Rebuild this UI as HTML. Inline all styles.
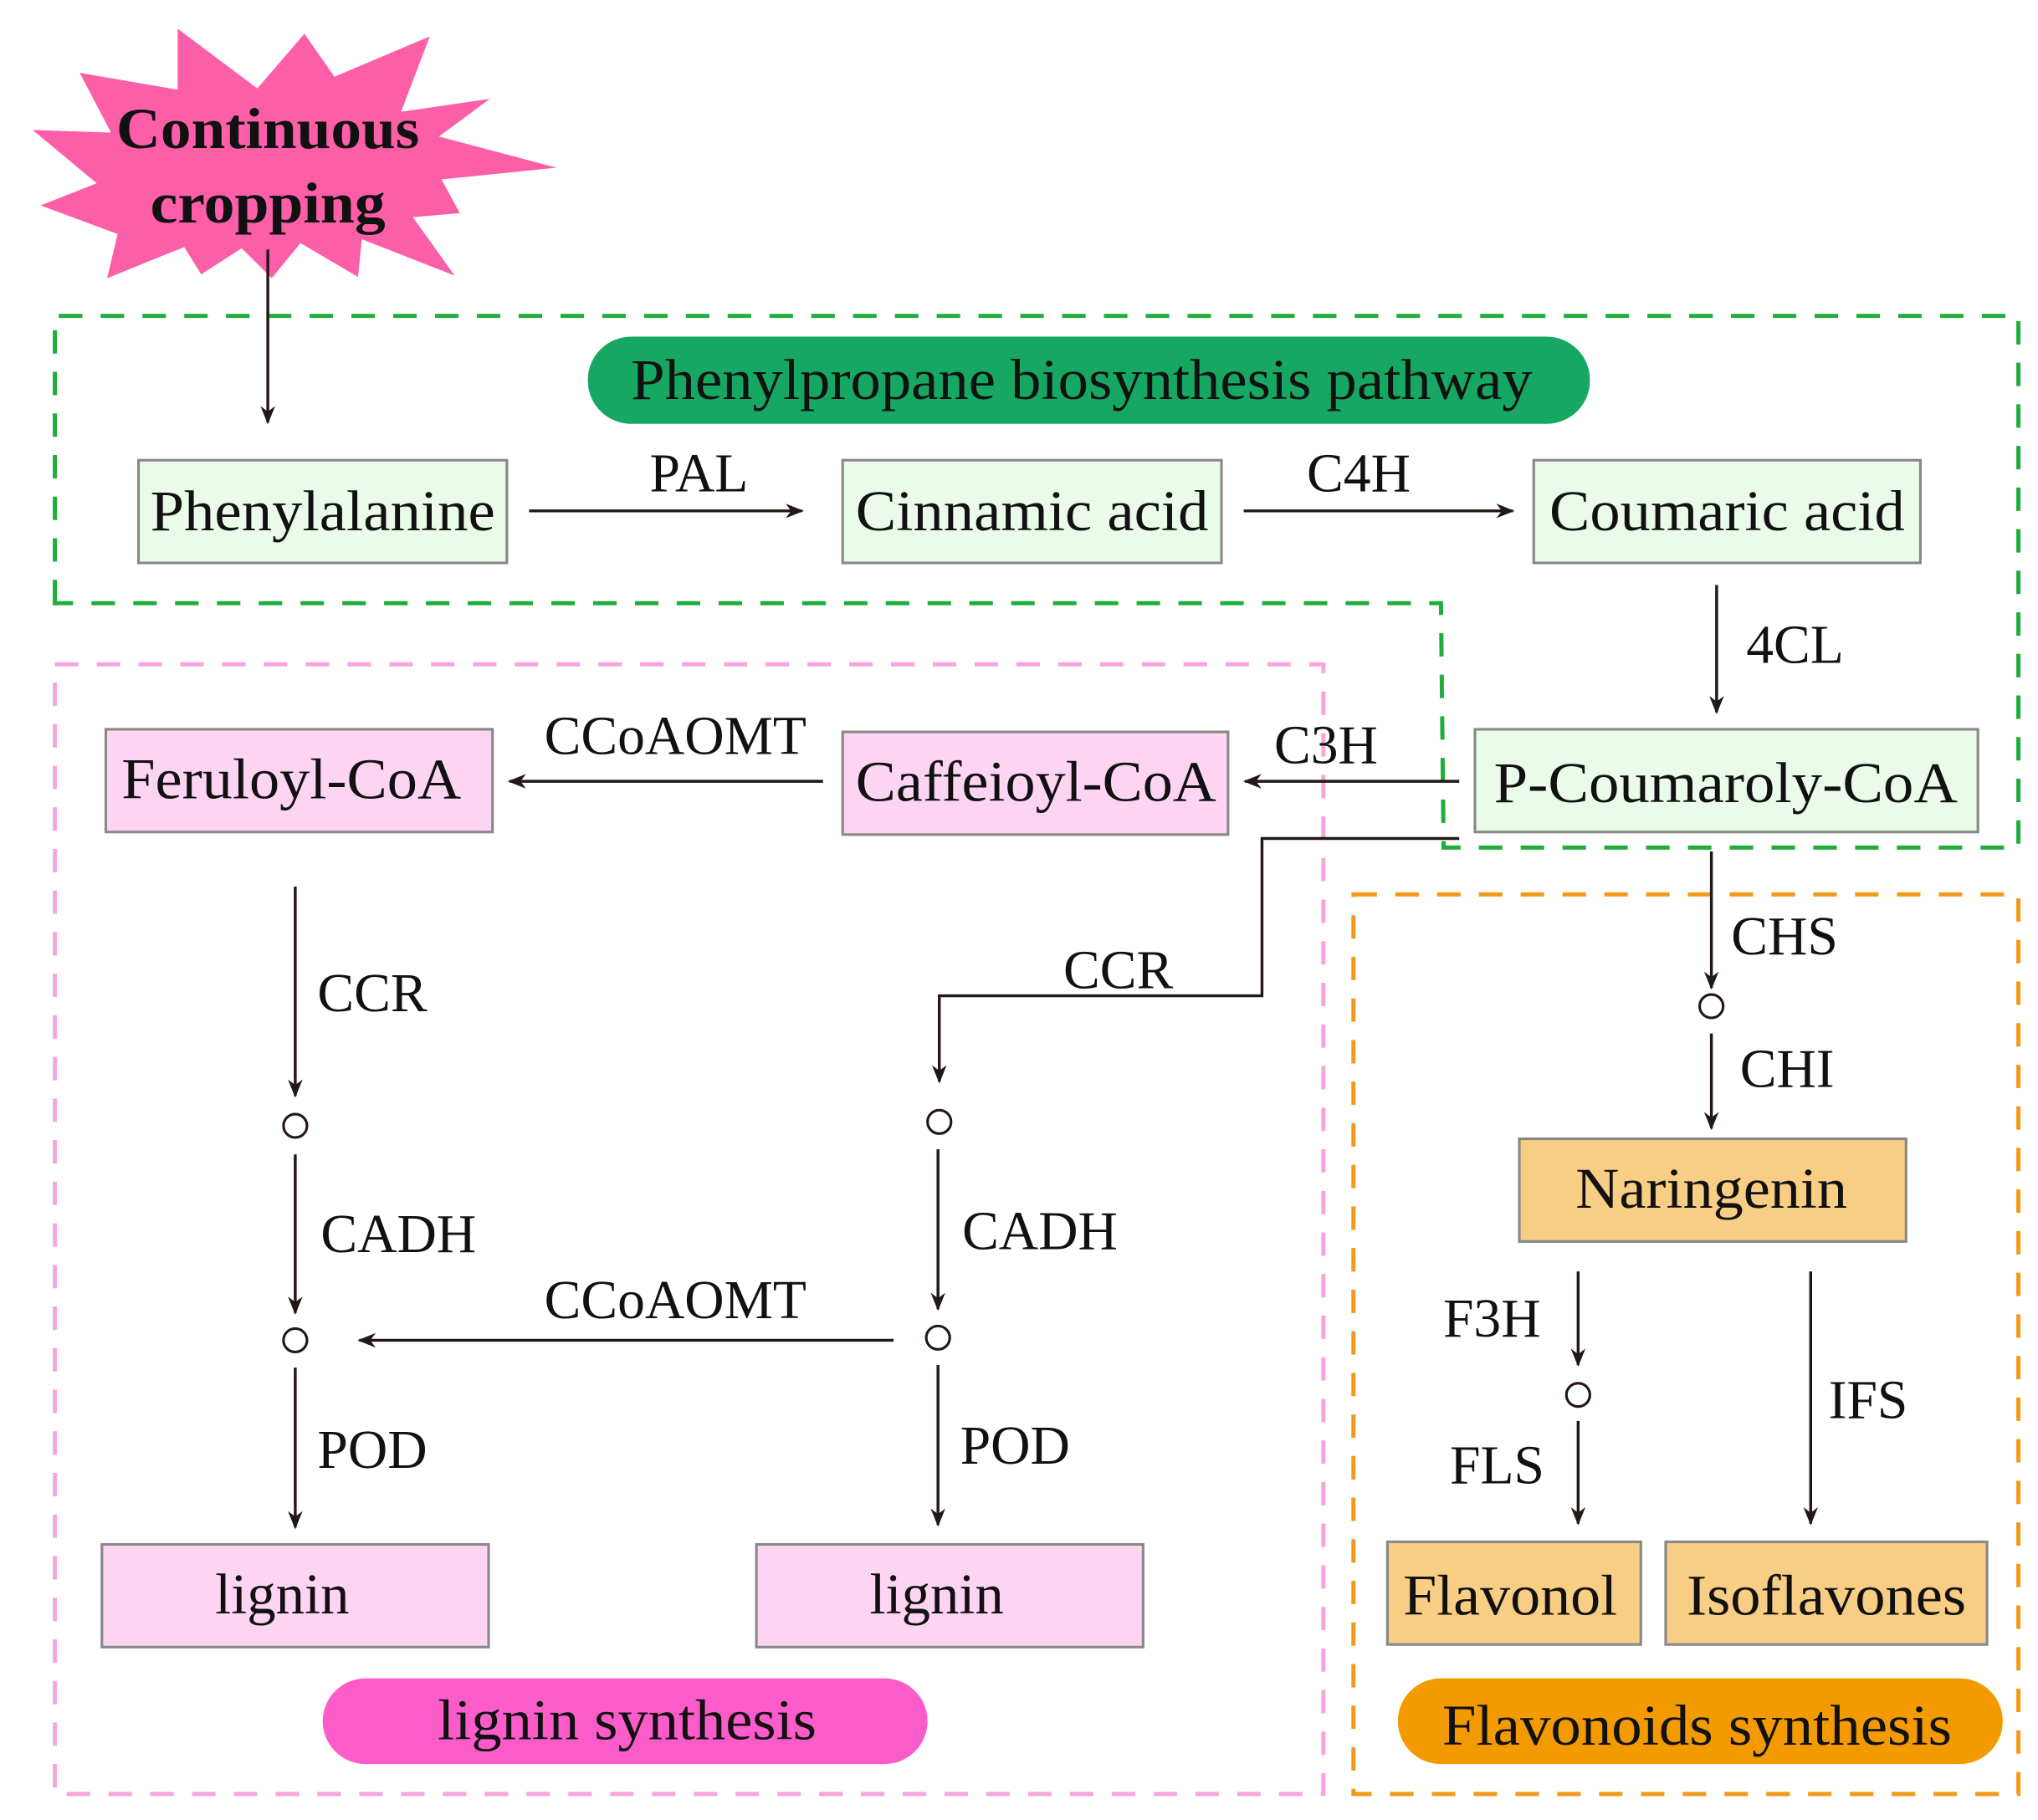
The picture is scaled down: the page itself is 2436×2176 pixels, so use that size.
<!DOCTYPE html>
<html><head><meta charset="utf-8"><style>
html,body{margin:0;padding:0;background:#fff;}
svg{display:block;}
text{font-family:"Liberation Serif",serif;fill:#111;}
</style></head><body>
<svg width="2436" height="2176" viewBox="0 0 1560 1400" preserveAspectRatio="none" xmlns="http://www.w3.org/2000/svg">
<defs>
<marker id="a" viewBox="0 0 10 10" refX="9" refY="5" markerWidth="14" markerHeight="14" orient="auto" markerUnits="userSpaceOnUse">
<path d="M0,1 L10,5 L0,9 L3,5 Z" fill="#231815"/>
</marker>
</defs>
<g fill="none" stroke-width="3.2" stroke-dasharray="18 14">
<path d="M42,464 L42,243 L1545,243 L1545,652 L1105,652 L1103,464 Z" stroke="#1fae3a"/>
<rect x="42" y="511" width="971" height="869" stroke="#f7a5dc"/>
<rect x="1036" y="688" width="509" height="692" stroke="#f29a1a"/>
</g>
<polygon points="136,22 197,68 233,26 256,59 329,28 307,86 375,76 336,105 426,129 338,138 352,164 316,167 348,212 277,184 274,213 230,187 208,214 185,191 154,211 141,190 82,214 90,180 31,158 74,141 25,100 85,102 61,56 136,69" fill="#fd5ea8"/>
<text x="205" y="114" font-size="44" font-weight="bold" text-anchor="middle" textLength="232" lengthAdjust="spacingAndGlyphs">Continuous</text>
<text x="205" y="171" font-size="44" font-weight="bold" text-anchor="middle" textLength="180" lengthAdjust="spacingAndGlyphs">cropping</text>
<g stroke="#231815" stroke-width="2.2" fill="none" marker-end="url(#a)">
<line x1="205" y1="192" x2="205" y2="325"/>
<line x1="405" y1="393" x2="614" y2="393"/>
<line x1="952" y1="393" x2="1158" y2="393"/>
<line x1="1314" y1="450" x2="1314" y2="548"/>
<line x1="1117" y1="601" x2="953" y2="601"/>
<line x1="630" y1="601" x2="390" y2="601"/>
<path d="M1117,645 L966,645 L966,766 L719,766 L719,832"/>
<line x1="226" y1="682" x2="226" y2="843"/>
<line x1="226" y1="888" x2="226" y2="1010"/>
<line x1="226" y1="1052" x2="226" y2="1175"/>
<line x1="718" y1="884" x2="718" y2="1007"/>
<line x1="718" y1="1050" x2="718" y2="1173"/>
<line x1="684" y1="1031" x2="275" y2="1031"/>
<line x1="1310" y1="655" x2="1310" y2="760"/>
<line x1="1310" y1="795" x2="1310" y2="868"/>
<line x1="1208" y1="978" x2="1208" y2="1050"/>
<line x1="1208" y1="1093" x2="1208" y2="1172"/>
<line x1="1386" y1="978" x2="1386" y2="1172"/>
</g>
<g fill="#fff" stroke="#231815" stroke-width="2">
<circle cx="226" cy="866" r="9"/><circle cx="226" cy="1031" r="9"/>
<circle cx="719" cy="863" r="9"/><circle cx="718" cy="1029" r="9"/>
<circle cx="1310" cy="774" r="9"/><circle cx="1208" cy="1073" r="9"/>
</g>
<rect x="450" y="259" width="767" height="67" rx="33" fill="#16a862"/>
<text x="828" y="307" font-size="44" text-anchor="middle" textLength="690" lengthAdjust="spacingAndGlyphs">Phenylpropane biosynthesis pathway</text>
<g stroke="#888" stroke-width="2">
<rect x="106" y="354" width="282" height="79" fill="#eafbea"/>
<rect x="645" y="354" width="290" height="79" fill="#eafbea"/>
<rect x="1174" y="354" width="296" height="79" fill="#eafbea"/>
<rect x="1129" y="561" width="385" height="79" fill="#eafbea"/>
<rect x="81" y="561" width="296" height="79" fill="#fdd5f3"/>
<rect x="645" y="563" width="295" height="79" fill="#fdd5f3"/>
<rect x="78" y="1188" width="296" height="79" fill="#fdd5f3"/>
<rect x="579" y="1188" width="296" height="79" fill="#fdd5f3"/>
<rect x="1163" y="876" width="296" height="79" fill="#f8cd84"/>
<rect x="1062" y="1186" width="194" height="79" fill="#f8cd84"/>
<rect x="1275" y="1186" width="246" height="79" fill="#f8cd84"/>
</g>
<rect x="247" y="1291" width="463" height="66" rx="33" fill="#fc5cc9"/>
<rect x="1070" y="1291" width="463" height="66" rx="33" fill="#f29a00"/>
<g font-size="44" text-anchor="middle">
<text x="247" y="408" textLength="264" lengthAdjust="spacingAndGlyphs">Phenylalanine</text>
<text x="790" y="408" textLength="270" lengthAdjust="spacingAndGlyphs">Cinnamic acid</text>
<text x="1322" y="408" textLength="272" lengthAdjust="spacingAndGlyphs">Coumaric acid</text>
<text x="1321" y="617" textLength="355" lengthAdjust="spacingAndGlyphs">P-Coumaroly-CoA</text>
<text x="223" y="614" textLength="260" lengthAdjust="spacingAndGlyphs">Feruloyl-CoA</text>
<text x="793" y="616" textLength="276" lengthAdjust="spacingAndGlyphs">Caffeioyl-CoA</text>
<text x="216" y="1241">lignin</text>
<text x="717" y="1241">lignin</text>
<text x="1310" y="929" textLength="208" lengthAdjust="spacingAndGlyphs">Naringenin</text>
<text x="1156" y="1242" textLength="164" lengthAdjust="spacingAndGlyphs">Flavonol</text>
<text x="1398" y="1242" textLength="214" lengthAdjust="spacingAndGlyphs">Isoflavones</text>
<text x="480" y="1338" textLength="290" lengthAdjust="spacingAndGlyphs">lignin synthesis</text>
<text x="1299" y="1342" textLength="390" lengthAdjust="spacingAndGlyphs">Flavonoids synthesis</text>
</g>
<g font-size="42" text-anchor="middle">
<text x="535" y="378">PAL</text>
<text x="1040" y="378">C4H</text>
<text x="1374" y="510">4CL</text>
<text x="1015" y="587">C3H</text>
<text x="517" y="580">CCoAOMT</text>
<text x="856" y="760">CCR</text>
<text x="285" y="778">CCR</text>
<text x="305" y="963">CADH</text>
<text x="796" y="961">CADH</text>
<text x="517" y="1014">CCoAOMT</text>
<text x="285" y="1129">POD</text>
<text x="777" y="1126">POD</text>
<text x="1366" y="734">CHS</text>
<text x="1368" y="836">CHI</text>
<text x="1142" y="1028">F3H</text>
<text x="1146" y="1141">FLS</text>
<text x="1430" y="1091">IFS</text>
</g>
</svg>
</body></html>
